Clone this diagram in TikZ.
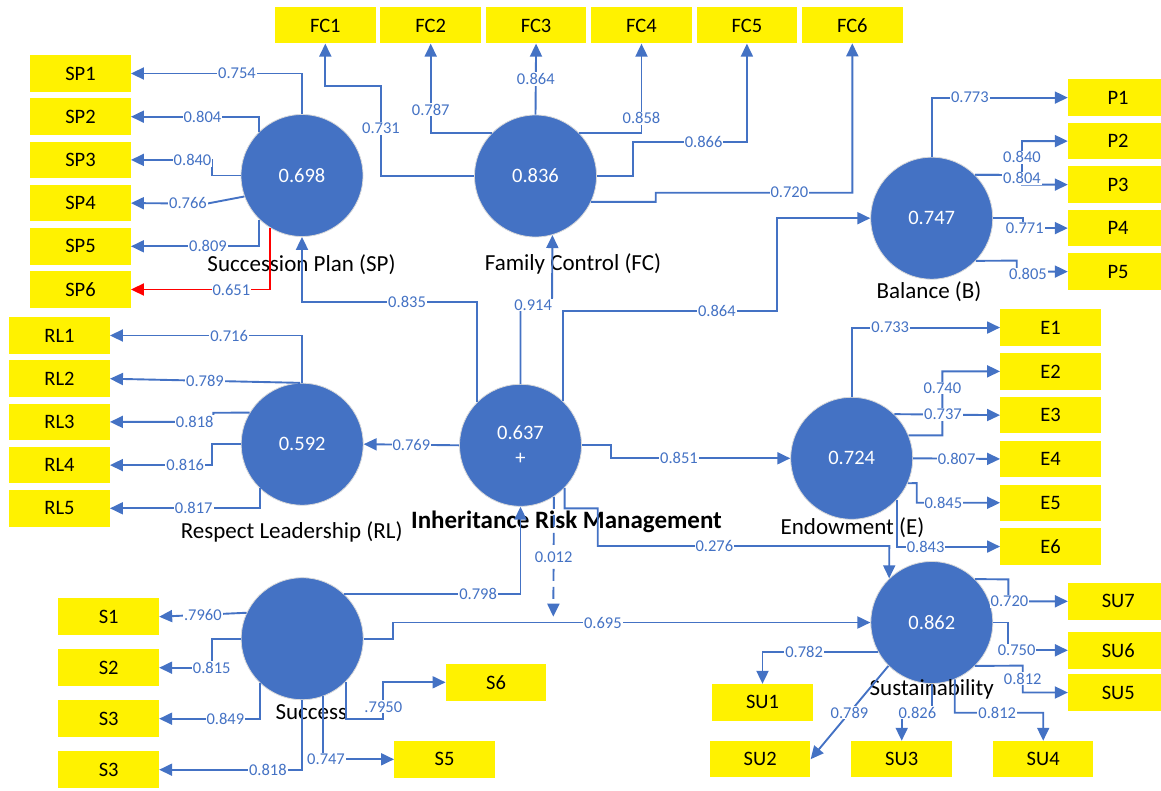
\documentclass[tikz,border=0pt]{standalone}
\usepackage{fontspec}
\setmainfont{Carlito}
\usepackage{tikz}
\usetikzlibrary{matrix,arrows.meta}
\definecolor{pblue}{HTML}{4472C4}
\newcommand{\fs}[1]{\fontsize{#1}{#1}\selectfont}

\begin{document}
\begin{tikzpicture}[x=1pt, y=-1pt, >={Triangle[length=13pt,width=12pt]},
		lv/.style={circle, fill=pblue, draw=gray!30, line width=0.8pt, minimum size=122pt, inner sep=0pt, text=white, font=\fs{20.5}},
		ind/.style={fill=yellow, minimum width=100.5pt, minimum height=36.5pt, inner sep=0pt, font=\fs{20.5}},
		lvname/.style={font=\fs{23}},
		w/.style={fill=white, text=pblue, font=\fs{16.5}, inner sep=1pt},
		ln/.style={draw=pblue, line width=1.9pt, ->}]
		\useasboundingbox (0,0) rectangle (1161,790);
		\node[lv] (SP) at (302,175.5) {0.698};
		\node[lv] (FC) at (535.5,176) {0.836};
		\node[lv] (B) at (931.7,218.2) {0.747};
		\node[lv] (RL) at (302.2,444.2) {0.592};
		\node[lv, align=center] (IRM) at (520.5,445.3) {0.637\\[5pt]+};
		\node[lv] (E) at (851.7,458.3) {0.724};
		\node[lv] (SC) at (302.2,638.7) {};
		\node[lv] (SU) at (931.8,622.5) {0.862};
		\coordinate (mod) at (553.3,616.7);
		\node[lvname] (SPt) at (301.5,265) {Succession Plan (SP)};
		\node[lvname] (FCt) at (573,264) {Family Control (FC)};
		\node[lvname] (Bt) at (929,291.5) {Balance (B)};
		\node[lvname] (RLt) at (291.7,532) {Respect Leadership (RL)};
		\node[font=\bfseries\fs{25}] (IRMt) at (566.5,522) {Inheritance Risk Management};
		\node[lvname] (Et) at (852.5,528) {Endowment (E)};
		\node[lvname] (SCt) at (311.3,712) {Success};
		\node[lvname] (SUt) at (931.8,689) {Sustainability};
		\matrix (msp) [matrix of nodes, nodes={ind}, row sep=6.7pt] at (80.5,181.5) {SP1\\SP2\\SP3\\SP4\\SP5\\SP6\\};
		\matrix (mfc) [matrix of nodes, nodes={ind, minimum height=36pt}, column sep=4.9pt] at (588.8,25.3) {FC1 & FC2 & FC3 & FC4 & FC5 & FC6\\};
		\matrix (mp) [matrix of nodes, nodes={ind, minimum width=100pt}, row sep=7pt] at (1118,184.6) {P1\\P2\\P3\\P4\\P5\\};
		\matrix (mrl) [matrix of nodes, nodes={ind}, row sep=6.7pt] at (59.5,421.9) {RL1\\RL2\\RL3\\RL4\\RL5\\};
		\matrix (me) [matrix of nodes, nodes={ind}, row sep=7.3pt] at (1050.5,437.05) {E1\\E2\\E3\\E4\\E5\\E6\\};
		\matrix (ms) [matrix of nodes, nodes={ind, minimum height=36.7pt}, row sep=14.3pt] at (108.7,693.2) {S1\\S2\\S3\\S3\\};
		\matrix (msu) [matrix of nodes, nodes={ind}, column sep=41pt] at (901.7,759.2) {SU2 & SU3 & SU4\\};
		\node[ind] (s5) at (444.5,759.3) {S5};
		\node[ind] (s6) at (496,682.3) {S6};
		\node[ind] (su1) at (762.5,702.3) {SU1};
		\node[ind] (su5) at (1118.3,692.5) {SU5};
		\node[ind] (su6) at (1118.3,650.3) {SU6};
		\node[ind] (su7) at (1118.3,601.3) {SU7};

		\draw[ln] (SP.north) |- node[w, pos=0.69] {0.754} (msp-1-1.east);
		\draw[ln] (SP.135) |- node[w, pos=0.72] {0.804} (msp-2-1.east);
		\draw[ln] (SP.west) -- (212,175.5) |- node[w, pos=0.62] {0.840} (msp-3-1.east);
		\draw[ln] (SP.200) -- (207,203.6) -- node[w, pos=0.25] {0.766} (msp-4-1.east);
		\draw[ln] (SP.226) |- node[w, pos=0.7] {0.809} (msp-5-1.east);
		\draw[ln, draw=red] (SP.239) |- node[w, pos=0.64] {0.651} (msp-6-1.east);

		\draw[ln] (FC.west) -- (381,176) -- node[w, pos=0.53] {0.731} (381,85.7) -| (mfc-1-1.south);
		\draw[ln] (FC.135) -| node[w, pos=0.63] {0.787} (mfc-1-2.south);
		\draw[ln] (FC.north) -- node[w] {0.864} (mfc-1-3.south);
		\draw[ln] (FC.45) -| node[w, pos=0.58] {0.858} (mfc-1-4.south);
		\draw[ln] (FC.east) -- (633,176) -- (633,141.7) -| node[w, pos=0.31] {0.866} (mfc-1-5.south);
		\draw[ln] (FC.-25) -- (655.7,201.8) -- (655.7,192.7) -| node[w, pos=0.34] {0.720} (mfc-1-6.south);

		\draw[ln] (IRM.135) -- ++(0,-99.5) -| node[w, pos=0.2] {0.835} (SP.south);
		\draw[ln] (IRM.north) |- node[w, pos=0.7] {0.914} (552,305) -- (FC.-74);
		\draw[ln] (IRM.46) |- node[w, pos=0.86] {0.864} (776.7,310.7) |- (B.west);
		\draw[ln] (IRM.east) -- (610.7,445.3) |- node[w, pos=0.69] {0.851} (E.west);
		\draw[ln] (IRM.west) -- node[w] {0.769} (RL.east);
		\draw[ln] (IRM.-44) |- (597.7,508.3) |- node[w, pos=0.7] {0.276} (889.3,546) -- (SU.134);
		\draw[ln, dash pattern=on 12pt off 6pt] (IRM.-57.5) -- node[w] {0.012} (mod);

		\draw[ln] (SC.47) -| node[w, pos=0.38] {0.798} (IRM.south);
		\draw[ln] (SC.east) -- (392.7,638.7) |- node[w, pos=0.72] {0.695} (SU.west);
		\draw[ln] (SC.155) -- node[w] {.7960} (ms-1-1.east);
		\draw[ln] (SC.west) -- (211.7,638.7) |- node[w] {0.815} (ms-2-1.east);
		\draw[ln] (SC.226) |- node[w, pos=0.67] {0.849} (ms-3-1.east);
		\draw[ln] (SC.south) |- node[w, pos=0.62] {0.818} (ms-4-1.east);
		\draw[ln] (SC.-70) |- node[w, pos=0.52] {0.747} (s5.west);
		\draw[ln] (SC.-45) |- (383.3,719.3) |- node[w, pos=0.17] {.7950} (s6.west);

		\draw[ln] (RL.north) |- node[w, pos=0.69] {0.716} (mrl-1-1.east);
		\draw[ln] (RL.92) -- node[w] {0.789} (mrl-2-1.east);
		\draw[ln] (RL.149) -- (213.3,412.8) |- node[w, pos=0.59] {0.818} (mrl-3-1.east);
		\draw[ln] (RL.west) -- (211.7,444.2) |- node[w, pos=0.63] {0.816} (mrl-4-1.east);
		\draw[ln] (RL.226) |- node[w, pos=0.72] {0.817} (mrl-5-1.east);

		\draw[ln] (B.north) |- node[w, pos=0.64] {0.773} (mp-1-1.west);
		\draw[ln] (B.45) -- (1022,175.1) |- node[w, pos=0.26] {0.840} (mp-2-1.west);
		\draw[ln] (B.45) -- (1022,175.1) |- node[w, pos=0.17] {0.804} (mp-3-1.west);
		\draw[ln] (B.east) -- (1023,218.2) |- node[w, pos=0.52] {0.771} (mp-4-1.west);
		\draw[ln] (B.-44) -- (1016.7,260.6) |- node[w, pos=0.61, below=-5pt] {0.805} (mp-5-1.west);

		\draw[ln] (E.north) |- node[w, pos=0.63] {0.733} (me-1-1.west);
		\draw[ln] (E.22) -- (942.3,435.4) |- node[w, pos=0.37] {0.740} (me-2-1.west);
		\draw[ln] (E.46) -- node[w, pos=0.46] {0.737} (me-3-1.west);
		\draw[ln] (E.east) -- node[w] {0.807} (me-4-1.west);
		\draw[ln] (E.-24) -- (916.7,483.1) |- node[w, pos=0.66] {0.845} (me-5-1.west);
		\draw[ln] (E.-43.5) |- node[w, pos=0.64] {0.843} (me-6-1.west);

		\draw[ln] (SU.45) -- (1008.3,579.4) |- node[w, pos=0.51] {0.720} (su7.west);
		\draw[ln] (SU.east) -- (1008.3,622.5) |- node[w, pos=0.57] {0.750} (su6.west);
		\draw[ln] (SU.-45) -- (1022.7,665.6) |- node[w, pos=0.24] {0.812} (su5.west);
		\draw[ln] (SU.-68) -- (954.7,712.7) -| node[w, pos=0.24] {0.812} (msu-1-3.north);
		\draw[ln] (SU.south) -- (931.8,712.7) -| node[w, pos=0.24] {0.826} (msu-1-2.north);
		\draw[ln] (SU.225) -- node[w] {0.789} (msu-1-1.east);
		\draw[ln] (SU.209) -| node[w, pos=0.32] {0.782} (su1.north);
\end{tikzpicture}
\end{document}
